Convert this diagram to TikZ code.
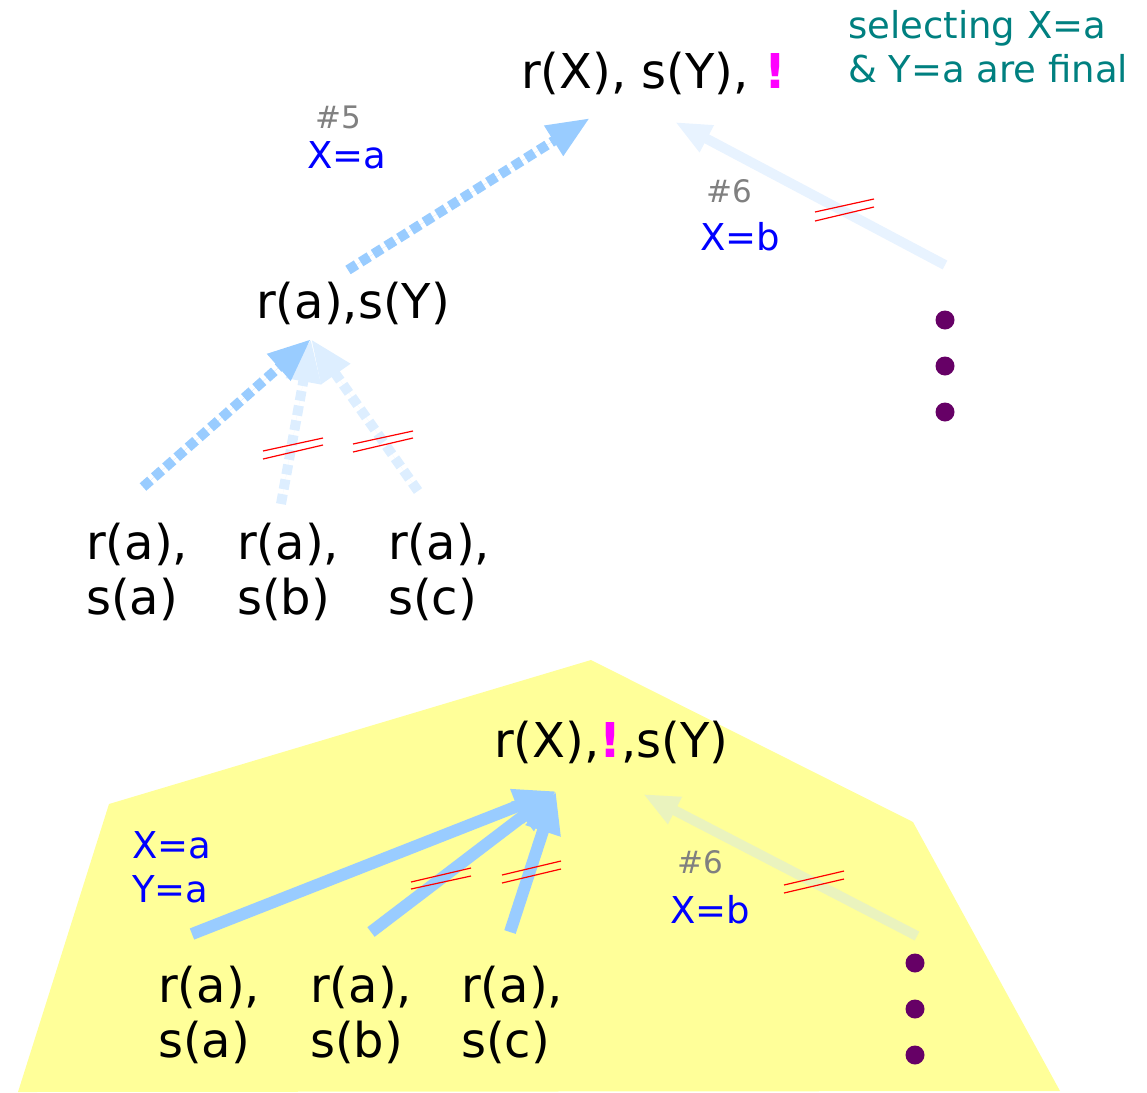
\documentclass[tikz,border=0pt]{standalone}
\usepackage{fontspec}
\setmainfont{DejaVu Sans}
\usetikzlibrary{arrows.meta}
\definecolor{arrowblue}{HTML}{99CCFF}
\definecolor{paleblue}{HTML}{DDEEFF}
\definecolor{faintblue}{HTML}{E8F3FF}
\definecolor{fainton}{HTML}{EAF3BE}
\definecolor{subst}{HTML}{0000FF}
\definecolor{numgray}{HTML}{808080}
\definecolor{cutmag}{HTML}{FF00FF}
\definecolor{noteteal}{HTML}{008080}
\definecolor{dotpurple}{HTML}{660066}
\definecolor{hiyellow}{HTML}{FFFF99}
\definecolor{slashred}{HTML}{FF0000}
\newcommand{\cutsym}{\textcolor{cutmag}{\bfseries !}}
\begin{document}
\begin{tikzpicture}[x=1pt,y=-1pt,
  goal/.style={inner sep=0pt, anchor=base west, font=\fontsize{48}{55}\selectfont},
  leaf/.style={inner sep=0pt, anchor=north west, align=left, font=\fontsize{48}{55}\selectfont},
  numlbl/.style={inner sep=0pt, anchor=base west, text=numgray, font=\fontsize{31}{36}\selectfont},
  sublbl/.style={inner sep=0pt, anchor=base west, text=subst, font=\fontsize{37}{44}\selectfont},
  notelbl/.style={inner sep=0pt, anchor=base west, text=noteteal, font=\fontsize{37}{44}\selectfont},
  dotmark/.style={circle, fill=dotpurple, inner sep=0pt, minimum size=19pt},
  dasharrow/.style={line width=10pt, dash pattern=on 10pt off 5pt, -{Triangle[length=43pt,width=33pt]}},
  solidarrow/.style={line width=12pt, -{Triangle[length=42pt,width=34pt]}},
  faintarrow/.style={line width=10pt, -{Triangle[length=36pt,width=28pt]}},
  slash/.style={draw=slashred, line width=1.2pt}
]
\useasboundingbox (0,0) rectangle (1147,1092);

% ---------- upper tree ----------
\node[goal] (root1) at (521,88) {r(X), s(Y), \cutsym};
\node[notelbl] (note1) at (848,38) {selecting X=a};
\node[notelbl] (note2) at (848,82) {\& Y=a are final};

\node[numlbl] (n5) at (315,128) {\#5};
\node[sublbl] (s5) at (307,168) {X=a};
\node[numlbl] (n6) at (706,202) {\#6};
\node[sublbl] (s6) at (700,250) {X=b};

\node[goal] (mid) at (256,318) {r(a),s(Y)};

\node[leaf] (c1) at (86,523) {r(a),\\s(a)};
\node[leaf] (c2) at (237,523) {r(a),\\s(b)};
\node[leaf] (c3) at (388,523) {r(a),\\s(c)};

\node[dotmark] (d1) at (945,320) {};
\node[dotmark] (d2) at (945,366) {};
\node[dotmark] (d3) at (945,412) {};

\coordinate (a5s) at (348,270);
\coordinate (a5t) at (590,118);
\coordinate (a6s) at (945,265);
\coordinate (a6t) at (675,122);
\coordinate (c1s) at (143,487);
\coordinate (c2s) at (281,504);
\coordinate (c3s) at (418,491);
\coordinate (midt) at (311,339);

\draw[faintarrow, draw=faintblue, fill=faintblue] (a6s) -- (a6t);
\draw[dasharrow, draw=arrowblue, fill=arrowblue] (a5s) -- (a5t);
\draw[dasharrow, draw=paleblue, fill=paleblue] (c2s) -- (midt);
\draw[dasharrow, draw=paleblue, fill=paleblue] (c3s) -- (midt);
\draw[dasharrow, draw=arrowblue, fill=arrowblue] (c1s) -- (midt);

\draw[slash] (263,451) -- (323,438) (263,459) -- (323,445);
\draw[slash] (353,444) -- (413,431) (353,452) -- (413,438);
\draw[slash] (815,212) -- (874,199) (815,221) -- (874,207);

% ---------- lower tree ----------
\fill[hiyellow] (109,804) -- (591,660) -- (913,822) -- (1060,1091) -- (18,1092) -- cycle;

\node[goal] (root2) at (494,757) {r(X),\cutsym,s(Y)};
\node[sublbl] (bxa) at (132,858) {X=a};
\node[sublbl] (bya) at (132,902) {Y=a};
\node[numlbl] (bn6) at (677,873) {\#6};
\node[sublbl] (bs6) at (670,923) {X=b};

\node[leaf] (e1) at (158,966) {r(a),\\s(a)};
\node[leaf] (e2) at (310,966) {r(a),\\s(b)};
\node[leaf] (e3) at (461,966) {r(a),\\s(c)};

\node[dotmark] (f1) at (915,963) {};
\node[dotmark] (f2) at (915,1009) {};
\node[dotmark] (f3) at (915,1055) {};

\coordinate (b1s) at (192,934);
\coordinate (b2s) at (371,932);
\coordinate (b3s) at (510,932);
\coordinate (bt) at (556,791);
\coordinate (b6s) at (917,936);
\coordinate (b6t) at (643,794);

\draw[faintarrow, draw=fainton, fill=fainton] (b6s) -- (b6t);
\draw[solidarrow, draw=arrowblue, fill=arrowblue] (b1s) -- (bt);
\draw[solidarrow, draw=arrowblue, fill=arrowblue] (b2s) -- (bt);
\draw[solidarrow, draw=arrowblue, fill=arrowblue] (b3s) -- (bt);

\draw[slash] (411,882) -- (471,868) (411,889) -- (471,876);
\draw[slash] (502,875) -- (561,861) (502,883) -- (561,869);
\draw[slash] (784,885) -- (844,871) (784,893) -- (844,879);
\end{tikzpicture}
\end{document}
